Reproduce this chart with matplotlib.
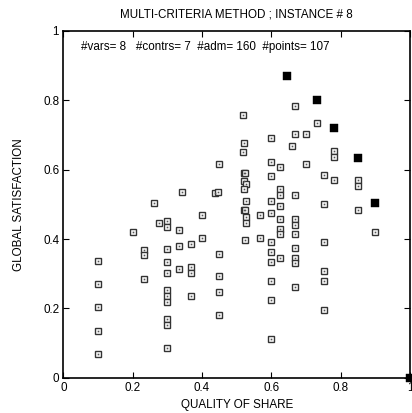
import matplotlib
matplotlib.use("Agg")
import matplotlib.pyplot as plt

plt.rcParams['font.family'] = ['Liberation Sans', 'DejaVu Sans']

# dominated solutions (quality of share, global satisfaction)
share = [0.10, 0.10, 0.10, 0.10, 0.10,
         0.20,
         0.234, 0.234, 0.234,
         0.261, 0.276,
         0.30, 0.30, 0.30, 0.30, 0.30, 0.30, 0.30, 0.30, 0.30, 0.30, 0.30,
         0.333, 0.333, 0.333, 0.341,
         0.368, 0.368, 0.368, 0.368,
         0.40, 0.40, 0.437, 0.447,
         0.45, 0.45, 0.45, 0.45, 0.45,
         0.517, 0.521, 0.517, 0.521, 0.525, 0.521, 0.526, 0.521, 0.526, 0.521, 0.525, 0.526, 0.526, 0.524,
         0.568, 0.568,
         0.60, 0.60, 0.60, 0.60, 0.60, 0.60, 0.60, 0.60, 0.60, 0.60, 0.60,
         0.625, 0.625, 0.625, 0.625, 0.625, 0.625, 0.625, 0.625,
         0.659,
         0.668, 0.668, 0.668, 0.668, 0.668, 0.668, 0.668, 0.668, 0.668, 0.668,
         0.70, 0.70, 0.733,
         0.751, 0.751, 0.751, 0.751, 0.751, 0.751,
         0.78, 0.78, 0.78,
         0.851, 0.851, 0.851,
         0.90]
satisf = [0.336, 0.269, 0.203, 0.136, 0.069,
          0.420,
          0.369, 0.353, 0.285,
          0.505, 0.446,
          0.453, 0.436, 0.370, 0.335, 0.303, 0.254, 0.235, 0.219, 0.170, 0.152, 0.085,
          0.425, 0.381, 0.313, 0.537,
          0.386, 0.320, 0.303, 0.235,
          0.469, 0.403, 0.532, 0.537,
          0.615, 0.358, 0.292, 0.246, 0.180,
          0.758, 0.677, 0.650, 0.590, 0.590, 0.566, 0.559, 0.545, 0.511, 0.483, 0.483, 0.464, 0.445, 0.396,
          0.468, 0.403,
          0.692, 0.623, 0.581, 0.510, 0.474, 0.391, 0.363, 0.335, 0.280, 0.224, 0.112,
          0.609, 0.543, 0.527, 0.495, 0.459, 0.430, 0.413, 0.346,
          0.669,
          0.785, 0.702, 0.527, 0.458, 0.441, 0.413, 0.374, 0.346, 0.330, 0.263,
          0.702, 0.617, 0.736,
          0.585, 0.502, 0.391, 0.307, 0.280, 0.196,
          0.654, 0.636, 0.570,
          0.570, 0.553, 0.485,
          0.419]

# pareto front
pareto_share = [0.644, 0.733, 0.78, 0.85, 0.90, 1.0]
pareto_satisf = [0.869, 0.802, 0.720, 0.635, 0.503, 0.0]

ticks = [0, 0.2, 0.4, 0.6, 0.8, 1]
tick_labels = ['0', '0.2', '0.4', '0.6', '0.8', '1']

fs = 8.4
fig = plt.figure(figsize=(4.12, 4.13), dpi=100)
ax = fig.add_axes([0.1537, 0.0855, 0.8413, 0.8395])

ax.plot(share, satisf, ls='none', marker='s', ms=5, mfc='white', mec='#333333', mew=1.0, clip_on=False)
ax.plot(share, satisf, ls='none', marker='s', ms=1.2, mfc='#555555', mec='none', clip_on=False)
ax.plot(pareto_share, pareto_satisf, ls='none', marker='s', ms=5.2, mfc='black', mec='black',
        mew=0.3, clip_on=False, zorder=5)

ax.set_xlim(0, 1)
ax.set_ylim(0, 1)
ax.set_xticks(ticks)
ax.set_xticklabels(tick_labels)
ax.set_yticks(ticks)
ax.set_yticklabels(tick_labels)
ax.tick_params(direction='in', top=True, right=True, length=4, labelsize=fs, pad=3)
for s in ax.spines.values():
    s.set_linewidth(1.2)

ax.set_xlabel('QUALITY OF SHARE', fontsize=fs, labelpad=4)
ax.set_ylabel('GLOBAL SATISFACTION', fontsize=fs, labelpad=13)
fig.text(0.573, 0.966, 'MULTI-CRITERIA METHOD ; INSTANCE # 8', fontsize=fs, ha='center', va='center')
ax.text(0.052, 0.955, '#vars= 8   #contrs= 7  #adm= 160  #points= 107', fontsize=fs,
        transform=ax.transAxes, ha='left', va='center')

fig.savefig('out.png', dpi=100)
